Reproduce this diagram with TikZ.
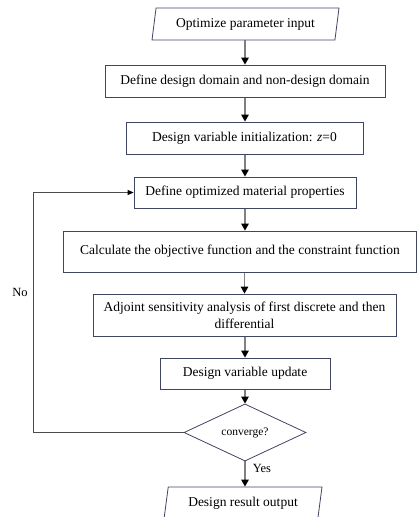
\documentclass[tikz,border=0pt]{standalone}
\usepackage{fontspec}
\setmainfont{Liberation Serif}
\usepackage{tikz}
\usetikzlibrary{shapes.geometric,arrows.meta}
\pgfdeclarelayer{edgelayer}
\pgfdeclarelayer{nodelayer}
\pgfsetlayers{edgelayer,nodelayer,main}
\definecolor{boxline}{rgb}{0.25,0.27,0.38}
\definecolor{flowgray}{rgb}{0.5,0.5,0.5}
\tikzstyle{process}=[rectangle, draw=boxline, fill=white, line width=0.8pt, minimum height=32pt, inner sep=0pt, font=\fontsize{13.5}{17}\selectfont]
\tikzstyle{io}=[trapezium, trapezium left angle=71, trapezium right angle=109, trapezium stretches body, draw=boxline, fill=white, line width=0.8pt, minimum height=32pt, inner sep=0pt, font=\fontsize{13.5}{17}\selectfont]
\tikzstyle{decision}=[diamond, draw=boxline, fill=white, line width=0.8pt, minimum width=122pt, minimum height=45pt, inner sep=0pt, font=\fontsize{11.5}{14}\selectfont]
\tikzstyle{flow}=[draw=flowgray, line width=1.3pt, -{Triangle[length=7pt,width=7.5pt,color=black]}]
\tikzstyle{loopline}=[draw=black!70, line width=0.9pt, -{Triangle[length=6pt,width=5pt,color=black]}]
\tikzstyle{lbl}=[inner sep=0pt, font=\fontsize{12.5}{15}\selectfont]

\begin{document}
\begin{tikzpicture}[x=1pt, y=-1pt]
            \useasboundingbox (0,0) rectangle (417,517);
            \begin{pgfonlayer}{nodelayer}
                \node [style=io, minimum width=187pt] (input) at (245.5, 24) {Optimize parameter input};
                \node [style=process, minimum width=280pt] (domain) at (245, 81) {Define design domain and non-design domain};
                \node [style=process, minimum width=237pt] (init) at (244.5, 138) {Design variable initialization: \textit{z}=0};
                \node [style=process, minimum width=222pt, minimum height=31pt] (matprop) at (245, 192.5) {Define optimized material properties};
                \node [style=process, minimum width=353pt, minimum height=41pt] (objfun) at (240, 251.5) {Calculate the objective function and the constraint function};
                \node [style=process, minimum width=303pt, minimum height=42pt, align=center] (sens) at (244.5, 315) {Adjoint sensitivity analysis of first discrete and then\\differential};
                \node [style=process, minimum width=170pt, minimum height=31pt] (update) at (245, 373.5) {Design variable update};
                \node [style=decision] (conv) at (245, 432.5) {converge?};
                \node [style=io, minimum width=158pt] (output) at (243, 503) {Design result output};
                \node [style=lbl] (no) at (20, 292) {No};
                \node [style=lbl] (yes) at (262, 468) {Yes};
                \coordinate (back) at (33, 432.5);
            \end{pgfonlayer}
            \begin{pgfonlayer}{edgelayer}
                \draw [style=flow] (input.south -| domain.north) to (domain.north);
                \draw [style=flow] (domain.south) to (domain.south |- init.north);
                \draw [style=flow] (init.south -| matprop.north) to (matprop.north);
                \draw [style=flow] (matprop.south) to (matprop.south |- objfun.north);
                \draw [style=flow] (objfun.south -| sens.north) to (sens.north);
                \draw [style=flow] (sens.south -| update.north) to (update.north);
                \draw [style=flow] (update.south) to (conv.north);
                \draw [style=flow] (conv.south) to (conv.south |- output.north);
                \draw [style=loopline] (conv.west) -- (back) |- (matprop.west);
            \end{pgfonlayer}
        \end{tikzpicture}
\end{document}
